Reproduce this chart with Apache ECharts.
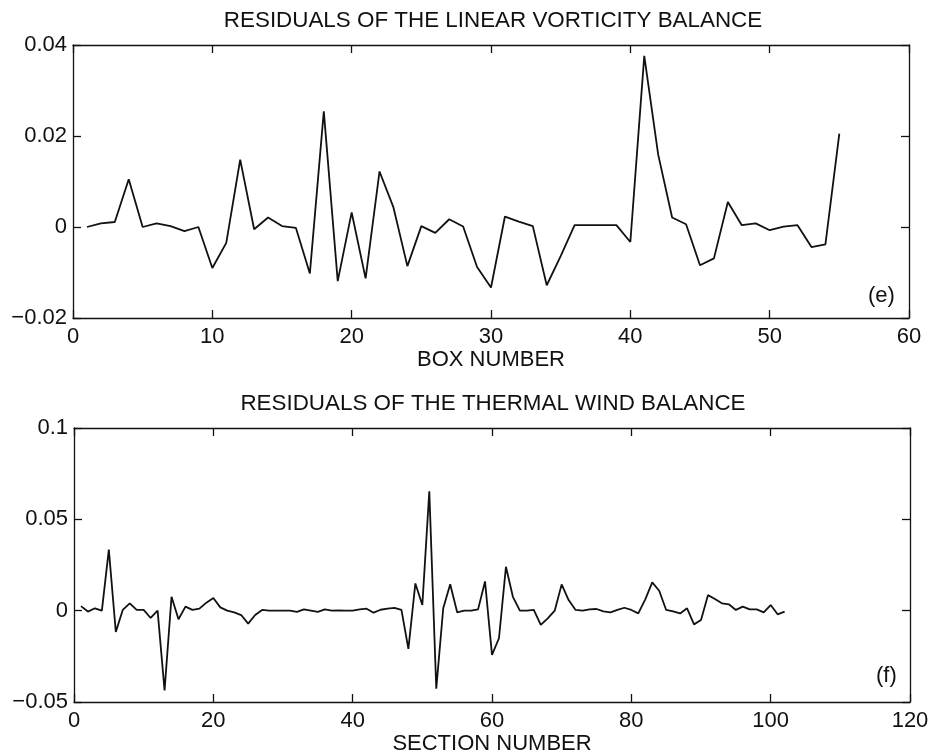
<!DOCTYPE html>
<html>
<head>
<meta charset="utf-8">
<script src="https://cdn.jsdelivr.net/npm/echarts@6/dist/echarts.min.js"></script>
<style>
  html, body { margin: 0; padding: 0; background: #fff; }
  #chart { width: 929px; height: 755px; }
</style>
</head>
<body>
<div id="chart"></div>
<script>
// Residuals of the linear vorticity balance, one value per box (boxes 1..55)
const vorticityResiduals = [
  0.0000, 0.0008, 0.0011, 0.0105, 0.0000, 0.0008, 0.0002, -0.0009, 0.0000, -0.0090,
  -0.0035, 0.0148, -0.0005, 0.0021, 0.0002, -0.0002, -0.0102, 0.0254, -0.0119, 0.0032,
  -0.0113, 0.0122, 0.0043, -0.0086, 0.0002, -0.0013, 0.0017, 0.0001, -0.0088, -0.0133,
  0.0023, 0.0012, 0.0002, -0.0128, -0.0064, 0.0004, 0.0004, 0.0004, 0.0004, -0.0033,
  0.0376, 0.0159, 0.0021, 0.0006, -0.0084, -0.0069, 0.0055, 0.0004, 0.0008, -0.0007,
  0.0001, 0.0004, -0.0044, -0.0038, 0.0205
];

// Residuals of the thermal wind balance, one value per section (sections 1..102)
const thermalWindResiduals = [
  0.0025, -0.0005, 0.0013, 0.0000, 0.0334, -0.0116, 0.0004, 0.0040, 0.0004, 0.0004,
  -0.0040, 0.0000, -0.0436, 0.0076, -0.0047, 0.0022, 0.0004, 0.0011, 0.0044, 0.0069,
  0.0018, 0.0000, -0.0009, -0.0024, -0.0071, -0.0024, 0.0004, 0.0000, 0.0000, 0.0000,
  0.0000, -0.0007, 0.0007, 0.0000, -0.0007, 0.0007, 0.0000, 0.0002, 0.0000, 0.0000,
  0.0007, 0.0011, -0.0011, 0.0005, 0.0011, 0.0015, 0.0004, -0.0209, 0.0149, 0.0031,
  0.0653, -0.0427, 0.0013, 0.0145, -0.0009, 0.0000, 0.0000, 0.0007, 0.0160, -0.0242,
  -0.0151, 0.0240, 0.0076, 0.0000, 0.0000, 0.0004, -0.0078, -0.0042, 0.0000, 0.0144,
  0.0058, 0.0004, 0.0000, 0.0007, 0.0009, -0.0004, -0.0009, 0.0004, 0.0016, 0.0004,
  -0.0015, 0.0062, 0.0155, 0.0109, 0.0004, -0.0004, -0.0015, 0.0013, -0.0075, -0.0051,
  0.0085, 0.0064, 0.0040, 0.0035, 0.0004, 0.0022, 0.0007, 0.0007, -0.0009, 0.0031,
  -0.0020, -0.0005
];

const titles = [
  'RESIDUALS OF THE LINEAR VORTICITY BALANCE',
  'RESIDUALS OF THE THERMAL WIND BALANCE'
];
const xNames = ['BOX NUMBER', 'SECTION NUMBER'];
const panelTags = ['(e)', '(f)'];

// axis ranges: [min, max, interval]
const xRanges = [[0, 60, 10], [0, 120, 20]];
const yRanges = [[-0.02, 0.04, 0.02], [-0.05, 0.1, 0.05]];

const FONT = '"Liberation Sans", Arial, Helvetica, sans-serif';
const INK = '#111';

function fmt(v) {
  if (Math.abs(v) < 1e-12) return '0';
  const s = String(parseFloat(Math.abs(v).toFixed(6)));
  return (v < 0 ? '\u2212' : '') + s;
}

const toPairs = arr => arr.map((v, i) => [i + 1, v]);

const grids = [
  { left: 73, right: 20, top: 45, height: 273, outerBoundsMode: 'none' },
  { left: 74, right: 19, top: 428, height: 274, outerBoundsMode: 'none' }
];
const labelMargins = [8, 8];
const nameGaps = [31, 31];

const xAxes = [];
const yAxes = [];
grids.forEach((g, gi) => {
  const [xmin, xmax, xint] = xRanges[gi];
  const [ymin, ymax, yint] = yRanges[gi];
  const common = {
    gridIndex: gi,
    axisLine: { show: true, onZero: false, lineStyle: { color: INK, width: 1.3 } },
    axisTick: { show: true, inside: true, length: 8, lineStyle: { color: INK, width: 1.3 } },
    splitLine: { show: false }
  };
  xAxes.push(Object.assign({}, common, {
    type: 'value', position: 'bottom', min: xmin, max: xmax, interval: xint,
    name: xNames[gi], nameLocation: 'middle', nameGap: nameGaps[gi], nameMoveOverlap: false,
    nameTextStyle: { fontFamily: FONT, fontSize: 22, color: INK },
    axisLabel: { fontFamily: FONT, fontSize: 22, color: INK, margin: labelMargins[gi], formatter: fmt }
  }));
  xAxes.push(Object.assign({}, common, {
    type: 'value', position: 'top', min: xmin, max: xmax, interval: xint,
    axisLabel: { show: false }
  }));
  yAxes.push(Object.assign({}, common, {
    type: 'value', position: 'left', min: ymin, max: ymax, interval: yint,
    axisLabel: { fontFamily: FONT, fontSize: 22, color: INK, margin: 6, formatter: fmt }
  }));
  yAxes.push(Object.assign({}, common, {
    type: 'value', position: 'right', min: ymin, max: ymax, interval: yint,
    axisLabel: { show: false }
  }));
});

const chart = echarts.init(document.getElementById('chart'), null, { renderer: 'canvas' });
chart.setOption({
  backgroundColor: '#fff',
  animation: false,
  title: titles.map((t, i) => ({
    text: t,
    left: 493,
    top: i === 0 ? 10 : 393,
    padding: 0,
    textAlign: 'center',
    textStyle: { fontFamily: FONT, fontSize: 22.4, fontWeight: 'normal', color: INK }
  })),
  grid: grids,
  xAxis: xAxes,
  yAxis: yAxes,
  graphic: [
    { type: 'text', left: 868, top: 285, style: { text: panelTags[0], font: '22px ' + FONT, fill: INK } },
    { type: 'text', left: 876, top: 665, style: { text: panelTags[1], font: '22px ' + FONT, fill: INK } }
  ],
  series: [
    {
      type: 'line', xAxisIndex: 0, yAxisIndex: 0,
      data: toPairs(vorticityResiduals),
      showSymbol: false, silent: true,
      lineStyle: { color: INK, width: 1.8 }
    },
    {
      type: 'line', xAxisIndex: 2, yAxisIndex: 2,
      data: toPairs(thermalWindResiduals),
      showSymbol: false, silent: true,
      lineStyle: { color: INK, width: 1.8 }
    }
  ]
});
</script>
</body>
</html>
